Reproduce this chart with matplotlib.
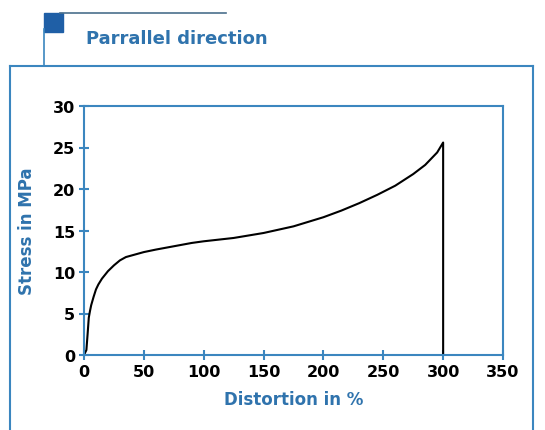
import numpy as np
import matplotlib.pyplot as plt
from matplotlib.patches import Rectangle
from matplotlib.lines import Line2D

# stress-strain curve
distortion = [0, 1, 2, 3, 4, 5, 6, 8, 10, 12, 15, 20, 25, 30, 35, 40, 50, 60, 75,
              90, 100, 125, 150, 175, 200, 215, 230, 245, 260, 275, 285, 295, 300, 300]
stress = [0, 0.3, 0.6, 2.5, 4.5, 5.3, 6.0, 7.0, 7.9, 8.5, 9.2, 10.1, 10.8, 11.4, 11.8,
          12.0, 12.4, 12.7, 13.1, 13.5, 13.7, 14.1, 14.7, 15.5, 16.6, 17.4, 18.3, 19.3,
          20.4, 21.8, 22.9, 24.4, 25.6, 0]

xticks = [0, 50, 100, 150, 200, 250, 300, 350]
yticks = [0, 5, 10, 15, 20, 25, 30]

title = "Parrallel direction"
xlabel = "Distortion in %"
ylabel = "Stress in MPa"

blue = "#3b86bf"
text_blue = "#2f73ad"
W, H = 545, 431

fig = plt.figure(figsize=(W / 100, H / 100), dpi=100)
fig.patch.set_facecolor("white")

def fx(px):
    return px / W

def fy(py):
    return 1 - py / H

# outer panel and header decoration
fig.add_artist(Line2D([fx(10), fx(533)], [fy(67), fy(67)], color=blue, lw=1.5))
fig.add_artist(Line2D([fx(10), fx(10)], [fy(67), 0], color=blue, lw=1.5))
fig.add_artist(Line2D([fx(533), fx(533)], [fy(67), 0], color=blue, lw=1.5))
fig.add_artist(Line2D([fx(44), fx(44)], [fy(30), fy(67)], color=blue, lw=1.2))
fig.add_artist(Line2D([fx(60), fx(226)], [fy(14), fy(14)], color="#4a6f8c", lw=1.2))
fig.add_artist(Rectangle((fx(44), fy(33)), fx(19), 19 / H, color="#1f5fa6"))
fig.text(fx(86), fy(39), title, color=text_blue, fontsize=13, fontweight="bold",
         va="center", ha="left")

ax = fig.add_axes([fx(84), fy(356), fx(503) - fx(84), (356 - 107) / H])
ax.plot(distortion, stress, color="black", lw=1.5)

ax.set_xlim(0, 350)
ax.set_ylim(0, 30)
ax.set_xticks(xticks)
ax.set_yticks(yticks)
for s in ax.spines.values():
    s.set_color(blue)
    s.set_linewidth(1.5)
ax.tick_params(direction="inout", length=7, width=1.5, color=blue,
               labelsize=11.5, pad=3)
for lab in ax.get_xticklabels() + ax.get_yticklabels():
    lab.set_fontweight("bold")
ax.set_xlabel(xlabel, color=text_blue, fontsize=12, fontweight="bold", labelpad=8)
ax.set_ylabel(ylabel, color=text_blue, fontsize=12, fontweight="bold", labelpad=12)

fig.savefig("out.png", dpi=100)
